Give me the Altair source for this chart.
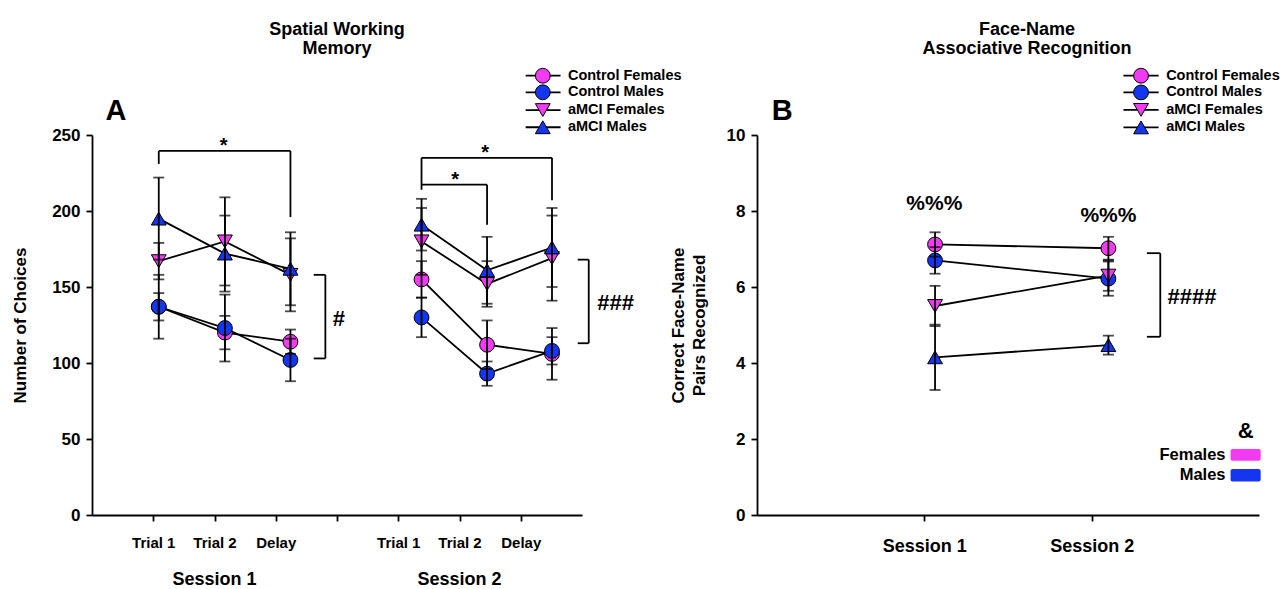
import json
import altair as alt
import pandas as pd

FONT = "Liberation Sans"
PINK = "#F23AF2"
BLUE = "#1436F2"

# ---------------- data ----------------
groups = ["Control Females", "Control Males", "aMCI Females", "aMCI Males"]
group_fills = [PINK, BLUE, PINK, BLUE]
group_shapes = ["circle", "circle", "triangle-down", "triangle-up"]
group_sizes = [220, 220, 330, 330]

conditions = ["Trial 1", "Trial 2", "Delay"]
sessions = ["Session 1", "Session 2"]

# Panel A: Spatial working memory (number of choices)
swm_x = [1.09, 2.17, 3.24, 5.38, 6.45, 7.51]          # where the points sit on the axis
swm_ticks = ["", "Trial 1", "Trial 2", "Delay", "", "Trial 1", "Trial 2", "Delay"]
swm_cf = [137, 120, 114, 155, 112, 106]
swm_cm = [137, 123, 102, 130, 93, 108]
swm_af = [167, 180, 158, 180, 152, 169]
swm_am = [195, 172, 162, 191, 161, 176]
swm_cf_sem = [21, 11, 8, 12, 16, 17]
swm_cm_sem = [9, 22, 14, 13, 8, 9]
swm_af_sem = [12, 29, 24, 22, 15, 28]
swm_am_sem = [27, 25, 24, 17, 22, 26]

# Panel B: Face-name associative recognition
fn_x = [1.064, 2.10]
fn_ticks = ["", "Session 1", "Session 2"]
fn_cf = [7.12, 7.02]
fn_cm = [6.70, 6.22]
fn_af = [5.50, 6.30]
fn_am = [4.15, 4.47]
fn_cf_sem = [0.32, 0.30]
fn_cm_sem = [0.35, 0.45]
fn_af_sem = [0.53, 0.40]
fn_am_sem = [0.86, 0.25]


def build(xs, means, sems, per_seg):
    rows = []
    for g, m_list, s_list in zip(groups, means, sems):
        for i, xv in enumerate(xs):
            m, s = m_list[i], s_list[i]
            rows.append({"group": g, "seg": i // per_seg, "x": xv, "y": m,
                         "lo": m - s, "hi": m + s})
    return pd.DataFrame(rows)


swm_df = build(swm_x, [swm_cf, swm_cm, swm_af, swm_am],
               [swm_cf_sem, swm_cm_sem, swm_af_sem, swm_am_sem], 3)
fn_df = build(fn_x, [fn_cf, fn_cm, fn_af, fn_am],
              [fn_cf_sem, fn_cm_sem, fn_af_sem, fn_am_sem], 2)

shape_scale = alt.Scale(domain=groups, range=group_shapes)
fill_scale = alt.Scale(domain=groups, range=group_fills)
size_scale = alt.Scale(domain=groups, range=group_sizes)


def panel(df, xdom, ydom, x_axis, y_axis, seg_df, txt_layers, legend_pos):
    X = lambda f="x": alt.X(f"{f}:Q", scale=alt.Scale(domain=xdom, nice=False, zero=False), axis=x_axis)
    Y = lambda f="y": alt.Y(f"{f}:Q", scale=alt.Scale(domain=ydom, nice=False, zero=False), axis=y_axis)

    def marker_enc():
        return dict(shape=alt.Shape("group:N", scale=shape_scale, legend=None),
                    fill=alt.Fill("group:N", scale=fill_scale, legend=None),
                    size=alt.Size("group:N", scale=size_scale, legend=None))

    base = alt.Chart(df)
    lines = base.mark_line(color="black", strokeWidth=1.8).encode(
        x=X(), y=Y(), detail=["group:N", "seg:N"], order="x:Q")
    pts = base.mark_point(filled=True, stroke="black", strokeWidth=1, opacity=1).encode(
        x=X(), y=Y(), **marker_enc())
    bars = base.mark_rule(color="black", strokeWidth=1.8).encode(
        x=X(), y=Y("lo"), y2="hi:Q")
    caps = base.transform_fold(["lo", "hi"], as_=["k", "v"]).mark_tick(
        orient="horizontal", size=11, thickness=1.8, color="black").encode(x=X(), y=Y("v"))

    segs = alt.Chart(seg_df).mark_rule(color="black", strokeWidth=1.8).encode(
        x=X(), y=Y(), x2="x2:Q", y2="y2:Q")

    # legend built from the group list
    lx_line0, lx_line1, lx_mark, lx_text, ly = legend_pos
    leg_df = pd.DataFrame({"group": groups, "y": ly,
                           "x": [lx_mark] * 4, "x1": [lx_line0] * 4,
                           "x2": [lx_line1] * 4, "xt": [lx_text] * 4})
    leg_line = alt.Chart(leg_df).mark_rule(color="black", strokeWidth=1.8).encode(
        x=X("x1"), x2="x2:Q", y=Y())
    leg_pt = alt.Chart(leg_df).mark_point(filled=True, stroke="black", strokeWidth=1, opacity=1).encode(
        x=X(), y=Y(), **marker_enc())
    leg_txt = alt.Chart(leg_df).mark_text(align="left", baseline="middle", font=FONT,
                                          fontWeight="bold", fontSize=14.5, color="black").encode(
        x=X("xt"), y=Y(), text="group:N")

    layers = [lines, pts, bars, caps, segs, leg_line, leg_pt, leg_txt]
    for tdf, props in txt_layers:
        layers.append(alt.Chart(tdf).mark_text(font=FONT, color="black", **props).encode(
            x=X(), y=Y(), text="t:N"))
    return alt.layer(*layers)


# ---------- panel A ----------
ax_common = dict(domainColor="black", domainWidth=1.8, tickColor="black", tickWidth=1.8,
                 tickSize=6, labelColor="black", labelFont=FONT, labelFontWeight="bold",
                 grid=False, titleFont=FONT, titleFontWeight="bold", titleColor="black")

a_x_axis = alt.Axis(values=list(range(1, 8)), labelExpr=f"{json.dumps(swm_ticks)}[datum.value]",
                    labelFontSize=15, labelPadding=14, title=None, labelFlush=False, **ax_common)
a_y_axis = alt.Axis(values=[0, 50, 100, 150, 200, 250], title="Number of Choices",
                    labelFontSize=17, labelPadding=6, titleFontSize=17, titlePadding=22, **ax_common)

a_segs = pd.DataFrame([
    # Session 1 Trial 1 vs Delay
    (1.09, 231, 1.09, 239.5), (1.09, 239.5, 3.24, 239.5), (3.24, 239.5, 3.24, 196),
    # Session 2 outer
    (5.38, 214, 5.38, 235), (5.38, 235, 7.51, 235), (7.51, 235, 7.51, 207),
    # Session 2 inner
    (5.38, 217.3, 6.45, 217.3), (6.45, 217.3, 6.45, 191),
    # group brackets
    (3.62, 158, 3.81, 158), (3.81, 158, 3.81, 103), (3.81, 103, 3.62, 103),
    (7.93, 168, 8.11, 168), (8.11, 168, 8.11, 113), (8.11, 113, 7.93, 113),
], columns=["x", "y", "x2", "y2"])

a_texts = [
    (pd.DataFrame({"x": [2.15, 6.42, 5.93], "y": [239.5, 235, 217.3], "t": ["*", "*", "*"]}),
     dict(fontSize=20, fontWeight="bold", baseline="alphabetic", dy=1)),
    (pd.DataFrame({"x": [4.03, 8.55], "y": [129, 139.5], "t": ["#", "###"]}),
     dict(fontSize=22, fontWeight="bold", baseline="middle")),
    (pd.DataFrame({"x": [0.39], "y": [266], "t": ["A"]}),
     dict(fontSize=29, fontWeight="bold", baseline="middle")),
    (pd.DataFrame({"x": [2, 6], "y": [-42.8, -42.8], "t": sessions}),
     dict(fontSize=18, fontWeight="bold", baseline="middle")),
]

panel_a = panel(swm_df, [0, 8], [0, 250], a_x_axis, a_y_axis, a_segs, a_texts,
                (7.08, 7.65, 7.36, 7.77, [289.0, 278.1, 266.4, 255.1])).properties(
    width=490, height=380,
    title=alt.TitleParams(["Spatial Working", "Memory"], fontSize=18, font=FONT, fontWeight="bold",
                          anchor="middle", offset=8, lineHeight=19, color="black"))

# ---------- panel B ----------
b_x_axis = alt.Axis(values=[1, 2], labelExpr=f"{json.dumps(fn_ticks)}[datum.value]",
                    labelFontSize=18, labelPadding=16, title=None, **ax_common)
b_y_axis = alt.Axis(values=[0, 2, 4, 6, 8, 10], title=["Correct Face-Name", "Pairs Recognized"],
                    labelFontSize=17, labelPadding=6, titleFontSize=17, titlePadding=18,
                    titleLineHeight=21, **ax_common)

b_segs = pd.DataFrame([
    (2.33, 6.89, 2.41, 6.89), (2.41, 6.89, 2.41, 4.69), (2.41, 4.69, 2.33, 4.69),
], columns=["x", "y", "x2", "y2"])

b_texts = [
    (pd.DataFrame({"x": [1.06, 2.10], "y": [8.18, 7.88], "t": ["%%%", "%%%"]}),
     dict(fontSize=21, fontWeight="bold", baseline="middle")),
    (pd.DataFrame({"x": [2.60], "y": [5.74], "t": ["####"]}),
     dict(fontSize=22, fontWeight="bold", baseline="middle")),
    (pd.DataFrame({"x": [0.15], "y": [10.63], "t": ["B"]}),
     dict(fontSize=29, fontWeight="bold", baseline="middle")),
    (pd.DataFrame({"x": [2.92], "y": [2.22], "t": ["&"]}),
     dict(fontSize=22, fontWeight="bold", baseline="middle")),
    (pd.DataFrame({"x": [2.80, 2.80], "y": [1.58, 1.05], "t": ["Females", "Males"]}),
     dict(fontSize=16.5, fontWeight="bold", baseline="middle", align="right")),
]

sex_df = pd.DataFrame({"x": [2.83, 2.83], "x2": [3.01, 3.01], "y": [1.74, 1.21], "y2": [1.43, 0.88],
                       "sex": ["Females", "Males"]})

panel_b_core = panel(fn_df, [0, 3], [0, 10], b_x_axis, b_y_axis, b_segs, b_texts,
                     (2.19, 2.40, 2.295, 2.445, [11.56, 11.12, 10.66, 10.20]))
sex_rects = alt.Chart(sex_df).mark_rect(cornerRadius=2).encode(
    x=alt.X("x:Q", scale=alt.Scale(domain=[0, 3], nice=False, zero=False), axis=b_x_axis),
    x2="x2:Q",
    y=alt.Y("y:Q", scale=alt.Scale(domain=[0, 10], nice=False, zero=False), axis=b_y_axis),
    y2="y2:Q",
    color=alt.Color("sex:N", scale=alt.Scale(domain=["Females", "Males"], range=[PINK, BLUE]), legend=None))

panel_b = alt.layer(panel_b_core, sex_rects).properties(
    width=502, height=380,
    title=alt.TitleParams(["Face-Name", "Associative Recognition"], fontSize=18, font=FONT,
                          fontWeight="bold", anchor="middle", offset=8, lineHeight=19, dx=19,
                          color="black"))

chart = alt.hconcat(panel_a, panel_b, spacing=175, bounds="flush").properties(
    padding={"left": 11, "top": 21, "right": 5, "bottom": 5}
).configure_view(stroke=None)

chart.save("out.html", embed_options={"renderer": "svg", "actions": False})
